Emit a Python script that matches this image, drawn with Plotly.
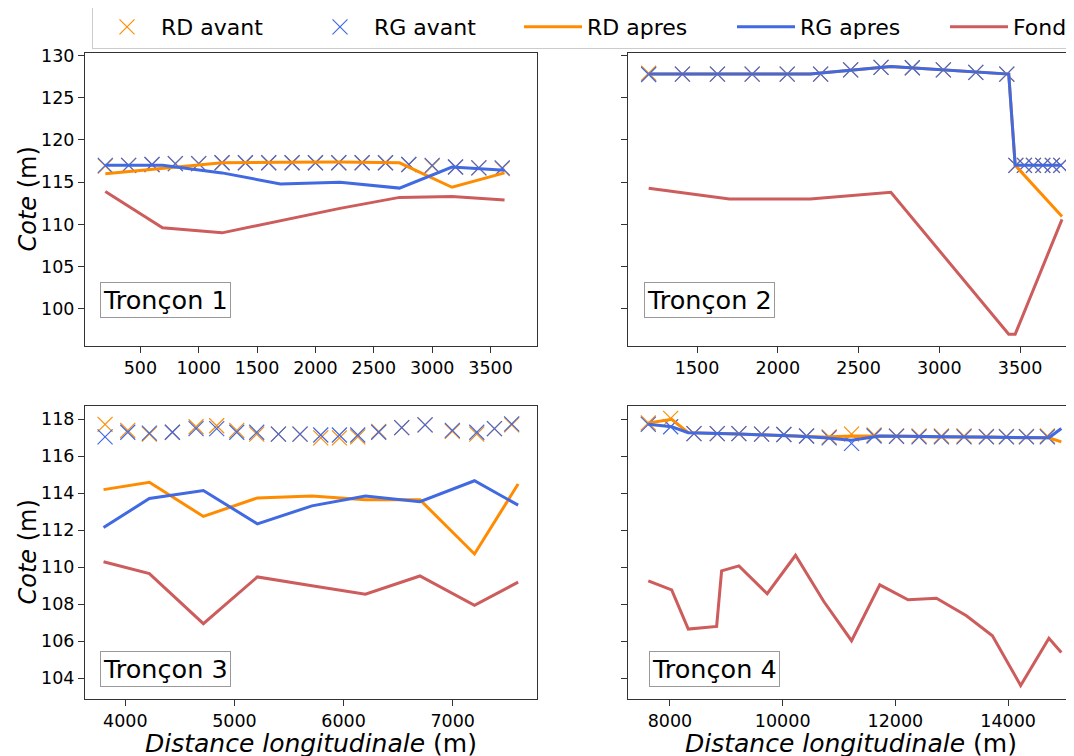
import plotly.graph_objects as go

# ---------------- data ----------------
# Tronçon 1
t1_avant_x = [200, 400, 600, 800, 1000, 1200, 1400, 1600, 1800, 2000, 2200, 2400, 2600, 2800, 3000, 3200, 3400, 3600]
t1_rd_avant = [116.9, 117.0, 117.1, 117.2, 117.2, 117.3, 117.3, 117.3, 117.3, 117.3, 117.3, 117.3, 117.3, 117.1, 116.9, 116.8, 116.7, 116.6]
t1_rg_avant = [117.0, 117.0, 117.1, 117.2, 117.2, 117.3, 117.3, 117.3, 117.3, 117.3, 117.3, 117.3, 117.3, 117.1, 117.0, 116.8, 116.7, 116.7]
t1_x = [200, 690, 1200, 1700, 2210, 2720, 3170, 3620]
t1_rd_apres = [116.0, 116.6, 117.3, 117.35, 117.4, 117.3, 114.4, 116.1]
t1_rg_apres = [117.0, 117.0, 116.1, 114.8, 115.0, 114.3, 116.8, 116.4]
t1_fond = [113.9, 109.6, 109.0, 110.4, 111.9, 113.2, 113.3, 112.9]

# Tronçon 2
t2_avant_x = [1200, 1409, 1626, 1841, 2058, 2265, 2451, 2639, 2833, 3025, 3226, 3418, 3474, 3527, 3583, 3641, 3700, 3752]
t2_rd_avant = [127.9, 127.8, 127.8, 127.8, 127.8, 127.8, 128.3, 128.6, 128.55, 128.3, 128.0, 127.8, 117.0, 117.0, 117.0, 117.0, 117.0, 117.0]
t2_rg_avant = [127.75, 127.8, 127.8, 127.8, 127.8, 127.8, 128.3, 128.6, 128.55, 128.3, 128.0, 127.8, 117.0, 117.0, 117.0, 117.0, 117.0, 117.0]
t2_x = [1200, 1700, 2200, 2700, 3430, 3470, 3760]
t2_rd_apres = [127.8, 127.8, 127.8, 128.7, 127.8, 117.0, 110.95]
t2_rg_apres = [127.8, 127.8, 127.8, 128.7, 127.8, 117.0, 117.0]
t2_fond = [114.27, 113.0, 113.0, 113.8, 97.0, 97.0, 110.6]

# Tronçon 3
t3_avant_x = [3814, 4022, 4220, 4431, 4648, 4837, 5021, 5204, 5403, 5601, 5791, 5962, 6130, 6322, 6533, 6747, 6997, 7221, 7383, 7541]
t3_rd_avant = [117.73, 117.4, 117.2, 117.3, 117.6, 117.65, 117.4, 117.2, 117.2, 117.2, 117.0, 117.0, 117.05, 117.35, 117.55, 117.7, 117.35, 117.2, 117.5, 117.7]
t3_rg_avant = [117.05, 117.3, 117.25, 117.3, 117.5, 117.5, 117.3, 117.3, 117.2, 117.2, 117.15, 117.15, 117.15, 117.3, 117.55, 117.7, 117.4, 117.3, 117.5, 117.75]
t3_x = [3800, 4220, 4715, 5210, 5710, 6200, 6700, 7200, 7600]
t3_rd_apres = [114.2, 114.6, 112.75, 113.75, 113.85, 113.65, 113.65, 110.72, 114.5]
t3_rg_apres = [112.15, 113.72, 114.15, 112.35, 113.32, 113.85, 113.55, 114.68, 113.36]
t3_fond = [110.3, 109.66, 106.95, 109.48, 109.0, 108.55, 109.53, 107.94, 109.2]

# Tronçon 4
t4_avant_x = [7615, 8012, 8426, 8839, 9223, 9626, 10021, 10424, 10825, 11222, 11622, 12020, 12420, 12817, 13218, 13615, 13970, 14325, 14697]
t4_rd_avant = [117.8, 118.05, 117.23, 117.23, 117.23, 117.2, 117.18, 117.1, 117.05, 117.2, 117.15, 117.1, 117.1, 117.1, 117.1, 117.08, 117.08, 117.08, 117.1]
t4_rg_avant = [117.73, 117.6, 117.23, 117.23, 117.23, 117.2, 117.18, 117.1, 117.0, 116.7, 117.1, 117.08, 117.05, 117.05, 117.05, 117.05, 117.05, 117.05, 117.05]
t4_x = [7615, 8030, 8325, 8828, 8916, 9223, 9725, 10228, 10730, 11222, 11723, 12225, 12729, 13261, 13722, 14223, 14725, 14945]
t4_rd_apres = [117.8, 118.0, 117.28, 117.22, 117.2, 117.2, 117.15, 117.1, 117.05, 117.1, 117.1, 117.08, 117.05, 117.05, 117.05, 117.0, 117.0, 116.78]
t4_rg_apres = [117.73, 117.6, 117.28, 117.22, 117.2, 117.2, 117.15, 117.1, 117.0, 116.87, 117.1, 117.08, 117.05, 117.05, 117.02, 117.0, 117.0, 117.5]
t4_fond = [109.27, 108.78, 106.66, 106.80, 109.81, 110.08, 108.57, 110.65, 108.15, 106.03, 109.05, 108.24, 108.33, 107.38, 106.30, 103.61, 106.16, 105.40]

sections = ["Tronçon 1", "Tronçon 2", "Tronçon 3", "Tronçon 4"]
series_names = ["RD avant", "RG avant", "RD apres", "RG apres", "Fond"]
x_title = "<i>Distance longitudinale</i> (m)"
y_title = "<i>Cote</i> (m)"

x_ticks = [[500, 1000, 1500, 2000, 2500, 3000, 3500],
           [1500, 2000, 2500, 3000, 3500],
           [4000, 5000, 6000, 7000],
           [8000, 10000, 12000, 14000]]
y_ticks_top = [100, 105, 110, 115, 120, 125, 130]
y_ticks_bottom = [104, 106, 108, 110, 112, 114, 116, 118]

# ---------------- styling ----------------
# the page body adds an 8px margin: place everything in page pixels minus that offset
OFF = 8
W, H = 1074, 756
C_RD = "#FF8C00"
C_RG = "#4169E1"
C_FOND = "#CD5C5C"
FONT = "DejaVu Sans"
AX = "#333333"

data = [
    (t1_avant_x, t1_rd_avant, t1_rg_avant, t1_x, t1_rd_apres, t1_rg_apres, t1_fond),
    (t2_avant_x, t2_rd_avant, t2_rg_avant, t2_x, t2_rd_apres, t2_rg_apres, t2_fond),
    (t3_avant_x, t3_rd_avant, t3_rg_avant, t3_x, t3_rd_apres, t3_rg_apres, t3_fond),
    (t4_avant_x, t4_rd_avant, t4_rg_avant, t4_x, t4_rd_apres, t4_rg_apres, t4_fond),
]

# target page-pixel boxes of the four panels (left, right, top, bottom)
boxes = [(85, 537, 53, 346), (628, 1073, 53, 346), (85, 537, 406, 699), (628, 1073, 406, 699)]
x_ranges = [[26, 3898], [1072, 3828], [3630, 7773], [7255, 15152]]
y_ranges = [[95.6, 130.3], [95.6, 130.3], [102.88, 118.72], [102.88, 118.72]]
label_pos = [(0.033, 0.095), (0.036, 0.095), (0.034, 0.042), (0.047, 0.042)]


def px(v):
    return (v - OFF) / W


def py(v):
    return 1 - (v - OFF) / H


fig = go.Figure()

for i, (ax_x, rd_av, rg_av, lx, rd_ap, rg_ap, fond) in enumerate(data):
    sx = "" if i == 0 else str(i + 1)
    xa, ya = "x" + sx, "y" + sx
    show = i == 0
    fig.add_trace(go.Scatter(x=ax_x, y=rd_av, mode="markers", name=series_names[0],
                             legendgroup="a", showlegend=show, xaxis=xa, yaxis=ya,
                             marker=dict(symbol="x-thin", size=15, color=C_RD,
                                         line=dict(width=1.2, color=C_RD))))
    fig.add_trace(go.Scatter(x=ax_x, y=rg_av, mode="markers", name=series_names[1],
                             legendgroup="b", showlegend=show, xaxis=xa, yaxis=ya,
                             marker=dict(symbol="x-thin", size=15, color=C_RG,
                                         line=dict(width=1.2, color=C_RG))))
    fig.add_trace(go.Scatter(x=lx, y=rd_ap, mode="lines", name=series_names[2],
                             legendgroup="c", showlegend=show, xaxis=xa, yaxis=ya,
                             line=dict(color=C_RD, width=3)))
    fig.add_trace(go.Scatter(x=lx, y=rg_ap, mode="lines", name=series_names[3],
                             legendgroup="d", showlegend=show, xaxis=xa, yaxis=ya,
                             line=dict(color=C_RG, width=3)))
    fig.add_trace(go.Scatter(x=lx, y=fond, mode="lines", name=series_names[4],
                             legendgroup="e", showlegend=show, xaxis=xa, yaxis=ya,
                             line=dict(color=C_FOND, width=3)))

layout = dict(
    width=W, height=H, autosize=False,
    margin=dict(l=0, r=0, t=0, b=0, autoexpand=False),
    paper_bgcolor="white", plot_bgcolor="white",
    font=dict(family=FONT, size=17, color="black"),
    showlegend=True,
    legend=dict(orientation="h", x=px(92), y=1 + 3 / H, xanchor="left", yanchor="top",
                bordercolor="#cccccc", borderwidth=1, bgcolor="white",
                font=dict(size=22, family=FONT, color="black"),
                entrywidth=140, entrywidthmode="pixels", itemwidth=58,
                traceorder="normal"),
)

annotations = []
for i in range(4):
    l, r, t, b = boxes[i]
    sx = "" if i == 0 else str(i + 1)
    xk = "xaxis" + sx
    yk = "yaxis" + sx
    row_bottom = i >= 2
    col_left = i % 2 == 0
    layout[xk] = dict(
        domain=[px(l), min(px(r), 1.0)], anchor="y" + sx, range=x_ranges[i],
        tickvals=x_ticks[i], tickformat="d", ticks="outside", ticklen=6, tickcolor=AX, tickwidth=1,
        showline=True, mirror=True, linecolor=AX, linewidth=1,
        showgrid=False, zeroline=False,
        tickfont=dict(size=17.5, color="black"),
    )
    layout[yk] = dict(
        domain=[py(b), py(t)], anchor="x" + sx, range=y_ranges[i],
        tickvals=y_ticks_top if i < 2 else y_ticks_bottom,
        ticks="outside", ticklen=6, tickcolor=AX, tickwidth=1,
        showline=True, mirror=True, linecolor=AX, linewidth=1,
        showgrid=False, zeroline=False, showticklabels=col_left,
        tickfont=dict(size=17.5, color="black"),
    )
    if row_bottom:
        annotations.append(dict(
            text=x_title, xref="paper", yref="paper",
            x=px((l + r) / 2), y=py(743), xanchor="center", yanchor="middle",
            showarrow=False, font=dict(size=25, color="black", family=FONT)))
    if col_left:
        annotations.append(dict(
            text=y_title, xref="paper", yref="paper", textangle=-90,
            x=px(27), y=py((t + b) / 2), xanchor="center", yanchor="middle",
            showarrow=False, font=dict(size=24, color="black", family=FONT)))
    lx, ly = label_pos[i]
    annotations.append(dict(
        text=sections[i], xref="x" + sx + " domain", yref="y" + sx + " domain",
        x=lx, y=ly, xanchor="left", yanchor="bottom", showarrow=False,
        font=dict(size=25.5, color="black", family=FONT),
        bordercolor="#999999", borderwidth=1, borderpad=2, bgcolor="white",
    ))

layout["annotations"] = annotations
fig.update_layout(**layout)

fig.write_html("out.html")
